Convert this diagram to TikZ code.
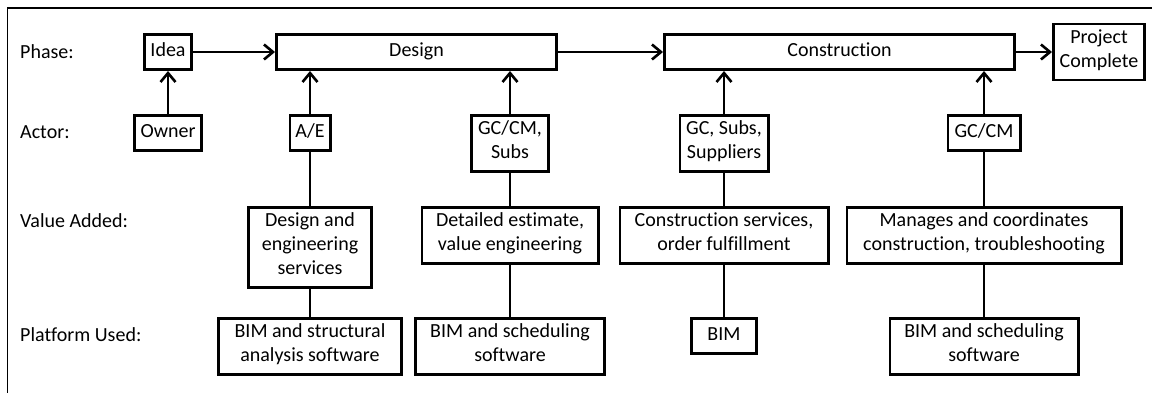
\documentclass[tikz,border=0pt]{standalone}
\usepackage{fontspec}
\setmainfont{Carlito}[Ligatures=NoCommon]
\usetikzlibrary{arrows.meta}

\tikzset{
  box/.style={draw, line width=2.6pt, align=center, inner xsep=4pt, inner ysep=5.7pt,
    font=\fontsize{20}{24}\selectfont,
    execute at begin node=\strut, execute at end node=\strut},
  rowlabel/.style={anchor=west, inner sep=0pt, font=\fontsize{20}{24}\selectfont},
  flow/.style={line width=2.6pt, -{Straight Barb[length=9pt,width=15pt]}},
  link/.style={line width=2.6pt},
}

\begin{document}
\begin{tikzpicture}[x=1pt, y=-1pt]
    \useasboundingbox (0,0) rectangle (1152,393);
    % open frame on top and left
    \draw[line width=1.6pt] (1152,8) -| (7.5,393);

    % row labels
    \foreach \lbl/\y [count=\i] in {Phase:/52, Actor:/132, Value Added:/221, Platform Used:/335} {
        \node[rowlabel] (label\i) at (20,\y) {\lbl};
    }

    % phases
    \node[box, minimum width=47.4pt] (idea) at (168,52) {Idea};
    \node[box, minimum width=280.4pt] (design) at (416.5,52) {Design};
    \node[box, minimum width=350.4pt] (construction) at (839.5,52) {Construction};
    \node[box, minimum width=91.4pt] (complete) at (1099,52) {Project\\Complete};

    % actors
    \node[box, anchor=north, minimum width=67.4pt] (owner) at (168,114) {Owner};
    \node[box, anchor=north, minimum width=40.4pt] (ae) at (310,114) {A/E};
    \node[box, anchor=north, minimum width=77.4pt] (gccm) at (510,114) {GC/CM,\\Subs};
    \node[box, anchor=north, minimum width=88.4pt] (gcsubs) at (724,114) {GC, Subs,\\Suppliers};
    \node[box, anchor=north, minimum width=72.4pt] (cm) at (984,114) {GC/CM};

    % value added
    \node[box, anchor=north, minimum width=123.4pt] (deseng) at (310,206) {Design and\\engineering\\services};
    \node[box, anchor=north, minimum width=176.4pt] (estimate) at (510,206) {Detailed estimate,\\value engineering};
    \node[box, anchor=north, minimum width=208.4pt] (services) at (724,206) {Construction services,\\order fulfillment};
    \node[box, anchor=north, minimum width=274.4pt] (manages) at (984,206) {Manages and coordinates\\construction, troubleshooting};

    % platforms
    \node[box, anchor=north, minimum width=183.4pt] (structural) at (310,317) {BIM and structural\\analysis software};
    \node[box, anchor=north, minimum width=189.4pt] (schedA) at (510,317) {BIM and scheduling\\software};
    \node[box, anchor=north, minimum width=65.4pt] (bim) at (724,317) {BIM};
    \node[box, anchor=north, minimum width=188.4pt] (schedB) at (984,317) {BIM and scheduling\\software};

    % phase flow
    \draw[flow] (idea) -- (design);
    \draw[flow] (design) -- (construction);
    \draw[flow] (construction) -- (complete);

    % actors feed the phases
    \draw[flow] (owner) -- (idea);
    \draw[flow] (ae) -- (ae |- design.south);
    \draw[flow] (gccm) -- (gccm |- design.south);
    \draw[flow] (gcsubs) -- (gcsubs |- construction.south);
    \draw[flow] (cm) -- (cm |- construction.south);

    % platform -> value -> actor
    \foreach \p/\v/\a in {structural/deseng/ae, schedA/estimate/gccm, bim/services/gcsubs, schedB/manages/cm} {
        \draw[link] (\p) -- (\v);
        \draw[link] (\v) -- (\a);
    }
\end{tikzpicture}
\end{document}
